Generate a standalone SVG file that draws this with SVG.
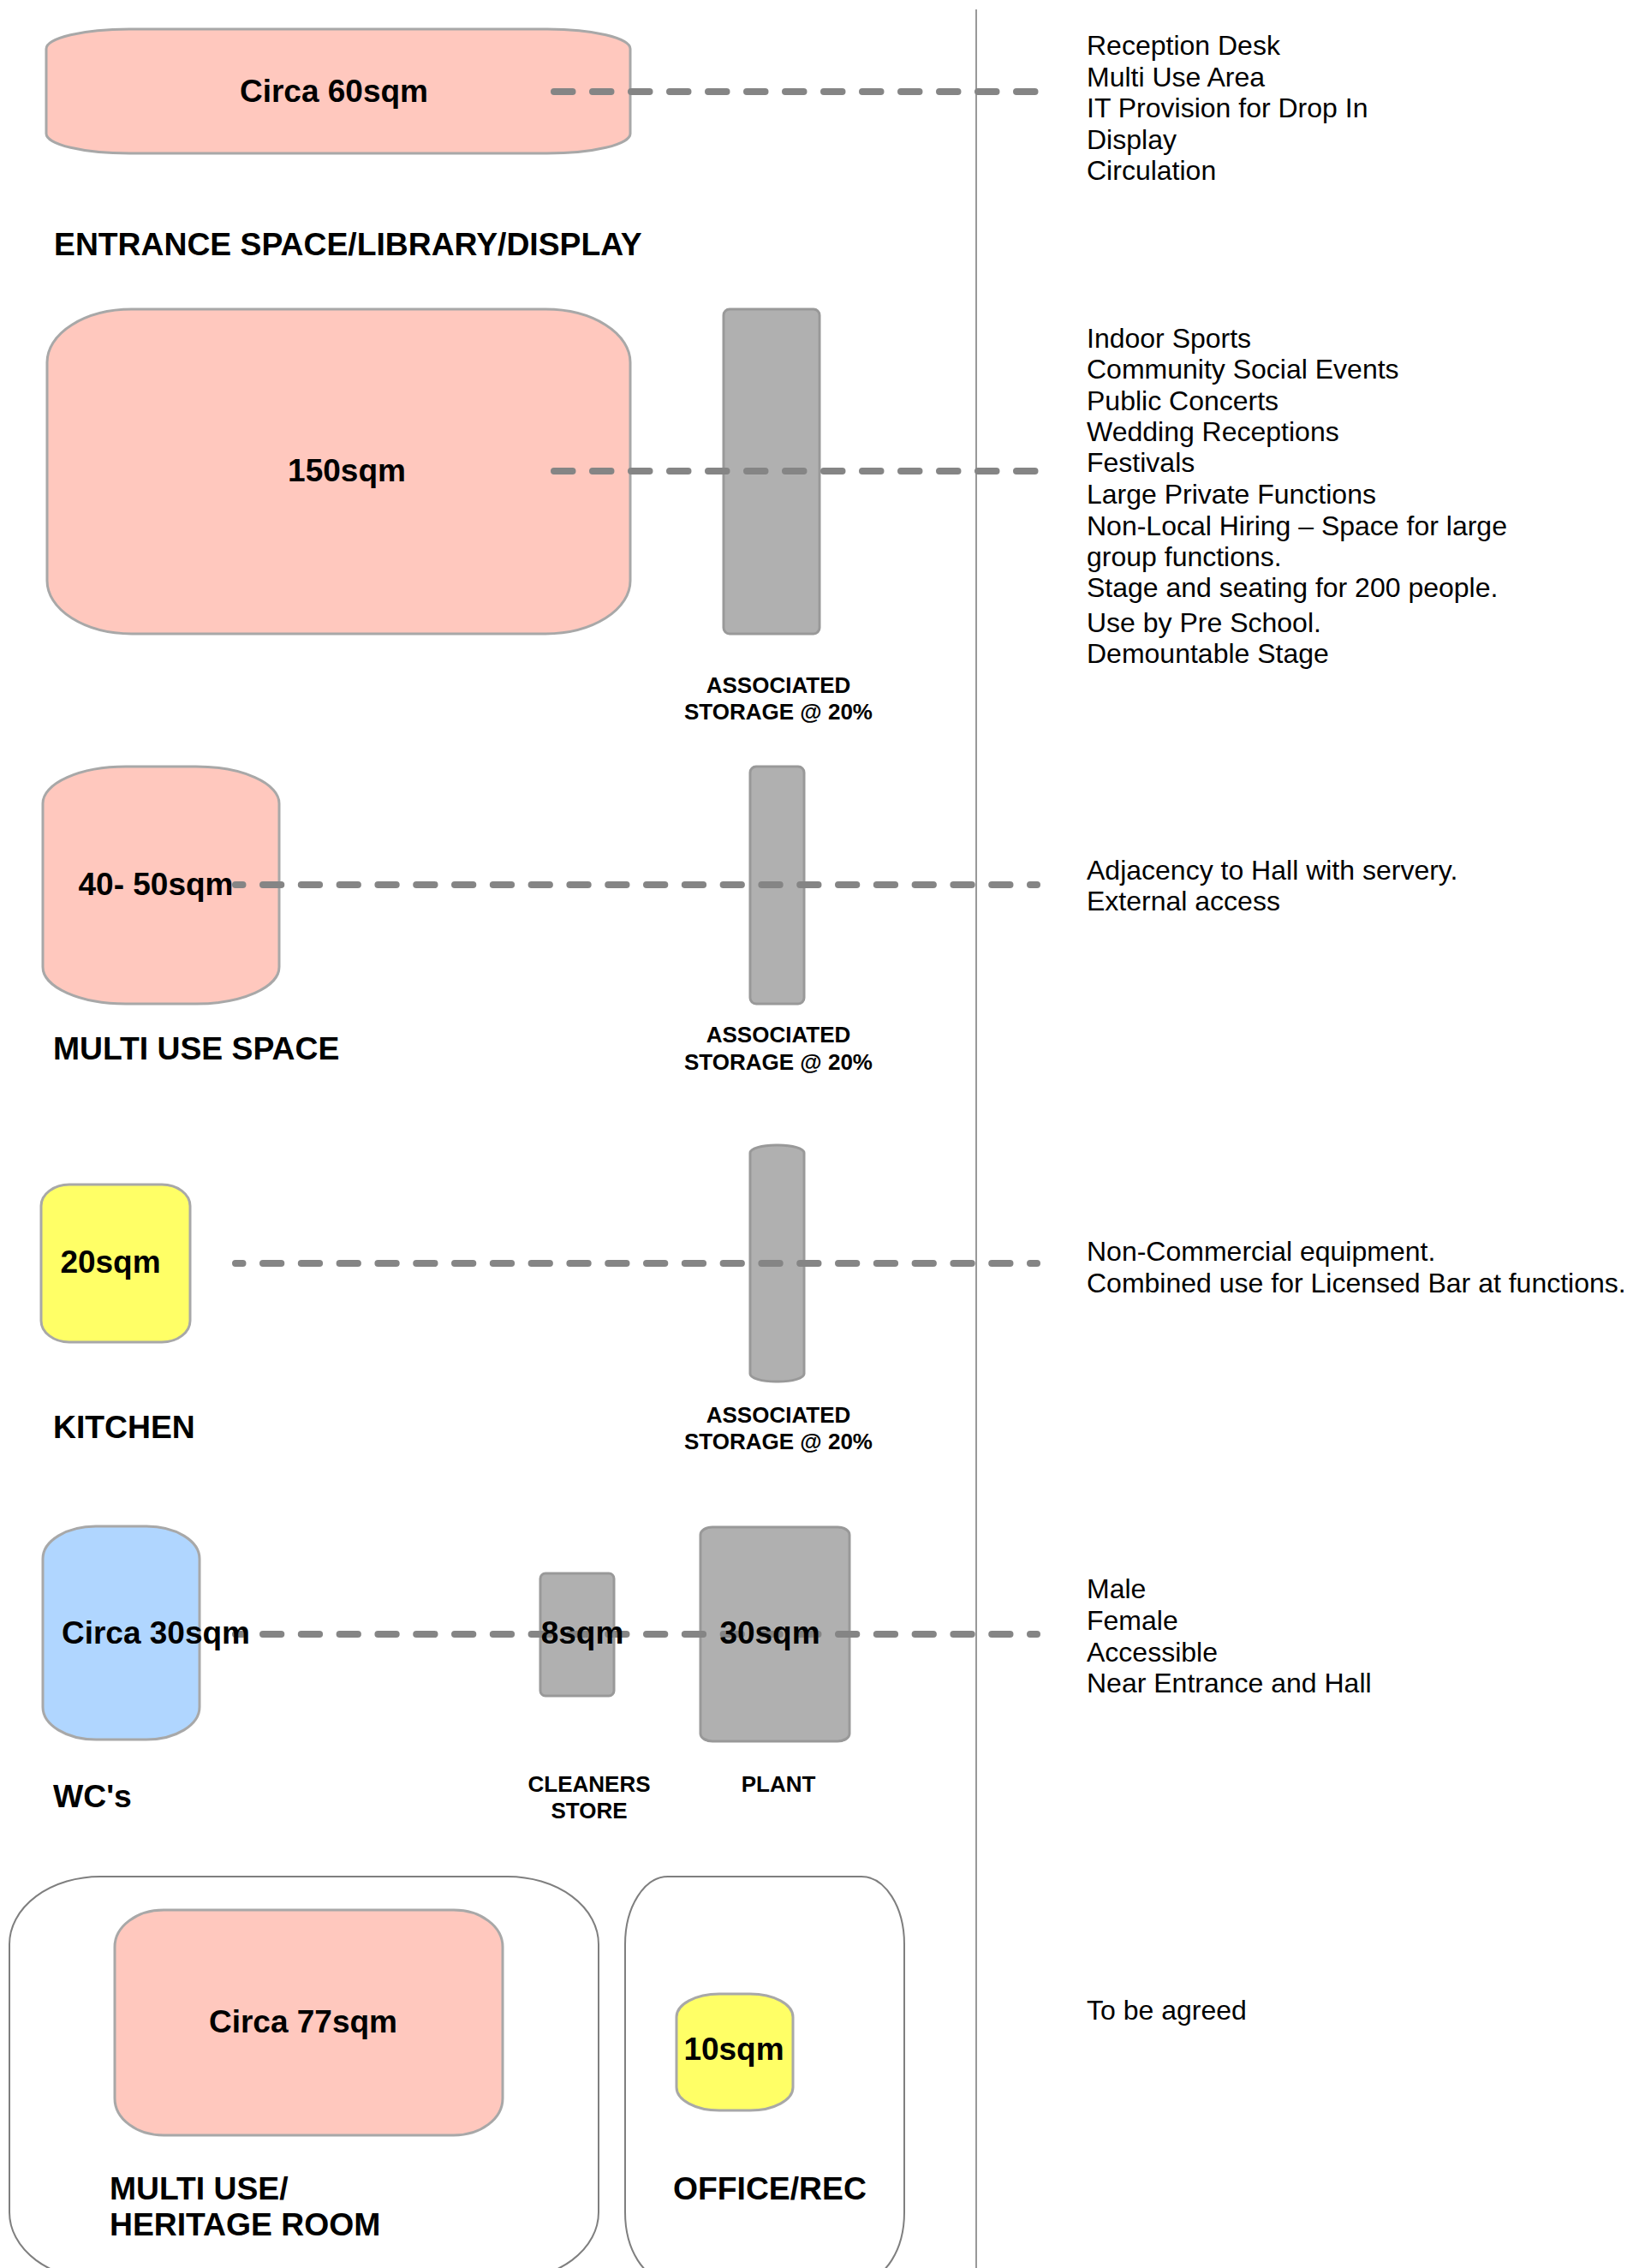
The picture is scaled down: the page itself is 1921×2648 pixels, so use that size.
<svg xmlns="http://www.w3.org/2000/svg" width="1921" height="2648" viewBox="0 0 1921 2648">
<style>
.pink{fill:#ffc8be;stroke:#a8a8a8;stroke-width:3}
.yellow{fill:#ffff66;stroke:#a8a8a8;stroke-width:3}
.blue{fill:#b0d6ff;stroke:#a8a8a8;stroke-width:3}
.grey{fill:#b0b0b0;stroke:#999999;stroke-width:3}
.frame{fill:none;stroke:#7f7f7f;stroke-width:2}
.lbl{font-family:"Liberation Sans",Arial,sans-serif;font-weight:bold;font-size:37px;fill:#000;text-anchor:middle}
.head{font-family:"Liberation Sans",Arial,sans-serif;font-weight:bold;font-size:37.3px;fill:#000}
.small{font-family:"Liberation Sans",Arial,sans-serif;font-weight:bold;font-size:26px;fill:#000;text-anchor:middle}
.note{font-family:"Liberation Sans",Arial,sans-serif;font-size:32px;fill:#000}
.dash{fill:none;stroke:#858585;stroke-width:8;stroke-linecap:round;stroke-dasharray:21.5 23.5}
.dash2{fill:none;stroke:#858585;stroke-width:8;stroke-linecap:round;stroke-dasharray:21.3 23.5;stroke-dashoffset:12.8}
</style>
<rect width="1921" height="2648" fill="#ffffff"/>
<line x1="1140" y1="11" x2="1140" y2="2648" stroke="#999999" stroke-width="2"/>

<g id="entrance">
<rect class="pink" x="54" y="34" width="682" height="145" rx="97" ry="23"/>
</g>
<g id="hall">
<rect class="pink" x="55" y="361" width="681" height="379" rx="99" ry="62"/>
</g>
<g id="hall-storage">
<rect class="grey" x="845" y="361" width="112" height="379" rx="7" ry="7"/>
</g>
<g id="multi-use">
<rect class="pink" x="50" y="895" width="276" height="277" rx="97" ry="43"/>
</g>
<g id="multi-use-storage">
<rect class="grey" x="876" y="895" width="63" height="277" rx="7" ry="7"/>
</g>
<g id="kitchen">
<rect class="yellow" x="48" y="1383" width="174" height="184" rx="33" ry="25"/>
</g>
<g id="kitchen-storage">
<rect class="grey" x="876" y="1337" width="63" height="276" rx="30" ry="9"/>
</g>
<g id="wc">
<rect class="blue" x="50" y="1782" width="183" height="249" rx="62" ry="38"/>
</g>
<g id="cleaners">
<rect class="grey" x="631" y="1837" width="86" height="143" rx="6" ry="6"/>
</g>
<g id="plant">
<rect class="grey" x="818" y="1783" width="174" height="250" rx="14" ry="9"/>
</g>
<g id="heritage">
<rect class="frame" x="11" y="2191" width="688" height="471" rx="106" ry="79"/>
<rect class="pink" x="134" y="2230" width="453" height="263" rx="57" ry="43"/>
</g>
<g id="office">
<rect class="frame" x="730" y="2191" width="326" height="471" rx="50" ry="79"/>
<rect class="yellow" x="790" y="2328" width="136" height="136" rx="50" ry="27"/>
</g>

<g id="connectors">
<line class="dash" x1="647" y1="107" x2="1211" y2="107"/>
<line class="dash" x1="647" y1="550" x2="1211" y2="550"/>
<line class="dash2" x1="275" y1="1033" x2="1211" y2="1033"/>
<line class="dash2" x1="275" y1="1475" x2="1211" y2="1475"/>
<line class="dash2" x1="275" y1="1908" x2="1211" y2="1908"/>
</g>

<g id="entrance-labels">
<text class="lbl" x="390" y="119">Circa 60sqm</text>
<text class="head" x="63" y="298">ENTRANCE SPACE/LIBRARY/DISPLAY</text>
</g>
<g id="hall-labels">
<text class="lbl" x="405" y="562">150sqm</text>
</g>
<g id="hall-storage-labels">
<text class="small" x="909" y="809">ASSOCIATED</text>
<text class="small" x="909" y="840">STORAGE @ 20%</text>
</g>
<g id="multi-use-labels">
<text class="lbl" x="182" y="1045">40- 50sqm</text>
<text class="head" x="62" y="1237">MULTI USE SPACE</text>
</g>
<g id="multi-use-storage-labels">
<text class="small" x="909" y="1217">ASSOCIATED</text>
<text class="small" x="909" y="1249">STORAGE @ 20%</text>
</g>
<g id="kitchen-labels">
<text class="lbl" x="129" y="1486">20sqm</text>
<text class="head" x="62" y="1679">KITCHEN</text>
</g>
<g id="kitchen-storage-labels">
<text class="small" x="909" y="1661">ASSOCIATED</text>
<text class="small" x="909" y="1692">STORAGE @ 20%</text>
</g>
<g id="wc-labels">
<text class="lbl" x="182" y="1919">Circa 30sqm</text>
<text class="head" x="62" y="2110">WC's</text>
</g>
<g id="cleaners-labels">
<text class="lbl" x="680" y="1919">8sqm</text>
<text class="small" x="688" y="2092">CLEANERS</text>
<text class="small" x="688" y="2123">STORE</text>
</g>
<g id="plant-labels">
<text class="lbl" x="899" y="1919">30sqm</text>
<text class="small" x="909" y="2092">PLANT</text>
</g>
<g id="heritage-labels">
<text class="lbl" x="354" y="2373">Circa 77sqm</text>
<text class="head" x="128" y="2568">MULTI USE/</text>
<text class="head" x="128" y="2610">HERITAGE ROOM</text>
</g>
<g id="office-labels">
<text class="lbl" x="857" y="2405">10sqm</text>
<text class="head" x="786" y="2568">OFFICE/REC</text>
</g>

<g id="notes">
<text class="note" x="1269" y="64">Reception Desk</text>
<text class="note" x="1269" y="100.5">Multi Use Area</text>
<text class="note" x="1269" y="137">IT Provision for Drop In</text>
<text class="note" x="1269" y="173.5">Display</text>
<text class="note" x="1269" y="210">Circulation</text>

<text class="note" x="1269" y="406">Indoor Sports</text>
<text class="note" x="1269" y="442">Community Social Events</text>
<text class="note" x="1269" y="478.5">Public Concerts</text>
<text class="note" x="1269" y="514.5">Wedding Receptions</text>
<text class="note" x="1269" y="551">Festivals</text>
<text class="note" x="1269" y="588">Large Private Functions</text>
<text class="note" x="1269" y="625">Non-Local Hiring – Space for large</text>
<text class="note" x="1269" y="661">group functions.</text>
<text class="note" x="1269" y="697">Stage and seating for 200 people.</text>
<text class="note" x="1269" y="738">Use by Pre School.</text>
<text class="note" x="1269" y="774">Demountable Stage</text>

<text class="note" x="1269" y="1027">Adjacency to Hall with servery.</text>
<text class="note" x="1269" y="1063">External access</text>

<text class="note" x="1269" y="1472">Non-Commercial equipment.</text>
<text class="note" x="1269" y="1509">Combined use for Licensed Bar at functions.</text>

<text class="note" x="1269" y="1866">Male</text>
<text class="note" x="1269" y="1903">Female</text>
<text class="note" x="1269" y="1940">Accessible</text>
<text class="note" x="1269" y="1976">Near Entrance and Hall</text>

<text class="note" x="1269" y="2358">To be agreed</text>
</g>
</svg>
